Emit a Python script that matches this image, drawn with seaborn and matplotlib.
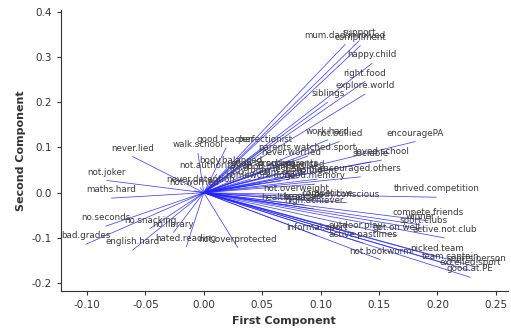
import matplotlib
matplotlib.use("Agg")
import matplotlib.pyplot as plt
import seaborn as sns
import pandas as pd

# Loadings: variable names and their first / second component values
variables = [
    "mum.dad.involved", "support", "compliment", "happy.child", "right.food",
    "explore.world", "siblings",
    "work.hard", "not.bullied", "encouragePA", "loved.school", "sociable",
    "parents.watched.sport", "never.worried", "good.teacher", "perfectionist",
    "walk.school", "body.balanced", "not.authoritarian", "never.detention",
    "not.worried", "not.joker", "never.lied", "maths.hard",
    "no.seconds", "no.snacking", "no.library", "bad.grades", "english.hard",
    "hated.reading", "not.overprotected",
    "good.at.school", "good.manners", "proud.parents", "organised", "confident",
    "encouraged.others", "responsible", "calm.child", "tidy.room",
    "homework.done", "good.memory", "not.overweight", "competitive",
    "body.conscious", "healthy.eater", "high.achiever", "breakfast",
    "thrived.competition",
    "compete.friends", "winner", "sport.clubs", "active.not.club", "got.on.well",
    "informal.sport", "outdoor.play", "active.pastimes", "not.bookworm",
    "picked.team", "team.captain", "sports.person", "excelled.sport", "good.at.PE",
]
pc1 = [
    0.121, 0.133, 0.134, 0.144, 0.138,
    0.138, 0.106,
    0.106, 0.116, 0.181, 0.152, 0.143,
    0.089, 0.075, 0.019, 0.052,
    -0.005, 0.023, 0.011, -0.003,
    -0.008, -0.083, -0.061, -0.079,
    -0.084, -0.046, -0.026, -0.101, -0.061,
    -0.015, 0.029,
    0.050, 0.060, 0.072, 0.085, 0.097,
    0.134, 0.080, 0.066, 0.040,
    0.048, 0.095, 0.079, 0.106,
    0.122, 0.074, 0.094, 0.086,
    0.199,
    0.192, 0.185, 0.188, 0.206, 0.165,
    0.097, 0.130, 0.136, 0.151,
    0.200, 0.211, 0.233, 0.228, 0.228,
]
pc2 = [
    0.328, 0.336, 0.325, 0.286, 0.246,
    0.218, 0.200,
    0.117, 0.113, 0.113, 0.072, 0.068,
    0.081, 0.070, 0.099, 0.100,
    0.087, 0.052, 0.041, 0.011,
    0.004, 0.027, 0.080, -0.012,
    -0.074, -0.079, -0.088, -0.114, -0.127,
    -0.120, -0.121,
    0.046, 0.040, 0.047, 0.044, 0.030,
    0.035, 0.033, 0.026, 0.030,
    0.020, 0.019, -0.009, -0.021,
    -0.022, -0.029, -0.036, -0.027,
    -0.010,
    -0.062, -0.071, -0.081, -0.100, -0.095,
    -0.095, -0.090, -0.111, -0.148,
    -0.142, -0.160, -0.164, -0.172, -0.187,
]

x_ticks = [-0.10, -0.05, 0.00, 0.05, 0.10, 0.15, 0.20, 0.25]
y_ticks = [-0.2, -0.1, 0.0, 0.1, 0.2, 0.3, 0.4]

rows = []
for v, a, b in zip(variables, pc1, pc2):
    rows.append({"var": v, "pc1": 0.0, "pc2": 0.0})
    rows.append({"var": v, "pc1": a, "pc2": b})
df = pd.DataFrame(rows)

sns.set_style("ticks")
plt.rcParams["font.family"] = ["DejaVu Sans"]

fig = plt.figure(figsize=(5.11, 3.32), dpi=100)
ax = fig.add_axes([0.119, 0.123, 0.875, 0.847])

sns.lineplot(data=df, x="pc1", y="pc2", units="var", estimator=None, sort=False,
             color="#2424ff", linewidth=0.55, alpha=0.85, ax=ax, legend=False)

for v, a, b in zip(variables, pc1, pc2):
    ax.annotate(v, (a, b), xytext=(0, 2.8), textcoords="offset points",
                ha="center", va="bottom", fontsize=6.3, color="#3a3a3a")

ax.set_xlim(-0.1224, 0.2603)
ax.set_ylim(-0.2177, 0.404)
ax.set_xticks(x_ticks)
ax.set_xticklabels([f"{t:.2f}" for t in x_ticks])
ax.set_yticks(y_ticks)
ax.set_yticklabels([f"{t:.1f}" for t in y_ticks])
ax.tick_params(labelsize=7.5, colors="#333333", length=3, width=0.8)
ax.set_xlabel("First Component", fontsize=8, fontweight="bold", color="#333333")
ax.set_ylabel("Second Component", fontsize=8, fontweight="bold", color="#333333")
for s in ["top", "right"]:
    ax.spines[s].set_visible(False)
for s in ["left", "bottom"]:
    ax.spines[s].set_color("#333333")
    ax.spines[s].set_linewidth(0.8)

fig.savefig("out.png", dpi=100)
